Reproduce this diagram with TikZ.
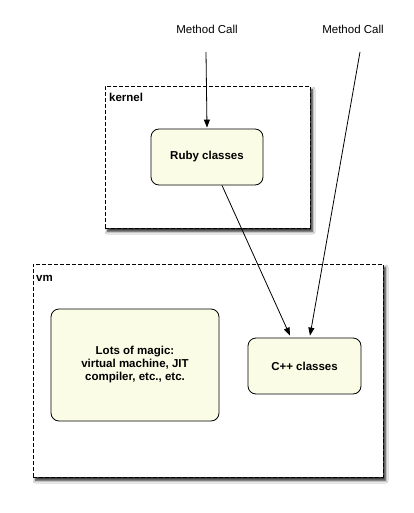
\documentclass[tikz,border=0pt]{standalone}
\usepackage{fontspec}
\setmainfont{Liberation Sans}
\usetikzlibrary{shadows.blur,arrows.meta,calc}
\definecolor{boxfill}{RGB}{250,252,230}
\begin{document}
\begin{tikzpicture}[x=1pt,y=-1pt,
  container/.style={draw=black, line width=0.8pt, dash pattern=on 4pt off 2pt, fill=white,
    blur shadow={shadow xshift=2.5pt, shadow yshift=-3.5pt, shadow blur steps=6, shadow blur radius=2.5pt, shadow opacity=85},
    inner sep=0pt},
  classbox/.style={draw=black, line width=0.8pt, fill=boxfill, rounded corners=8pt,
    inner sep=0pt, align=center, font=\fontsize{11.5}{13}\selectfont\bfseries},
  lbl/.style={font=\fontsize{11.5}{14}\selectfont\bfseries, anchor=west, inner sep=0pt},
  call/.style={font=\fontsize{11.5}{14}\selectfont, inner sep=0pt},
  arr/.style={line width=0.8pt, -{Triangle[length=8pt,width=6pt]}}]
\useasboundingbox (0,0) rectangle (414,513);
\fill[white] (0,0) rectangle (414,513);
% containers
\node[container, minimum width=205pt, minimum height=142pt] (kernel) at (207.5,157) {};
\node[lbl] (kl) at (109,97) {kernel};
\node[container, minimum width=350pt, minimum height=213pt] (vm) at (208,370.5) {};
\node[lbl] (vl) at (36,278) {vm};
% classes
\node[classbox, minimum width=112pt, minimum height=56pt] (ruby) at (207,157) {Ruby classes};
\node[classbox, minimum width=168pt, minimum height=112pt] (magic) at (135,365) {Lots of magic:\\virtual machine, JIT\\compiler, etc., etc.};
\node[classbox, minimum width=113pt, minimum height=56pt] (cpp) at (304.5,366) {C++ classes};
% method calls
\node[call] (mc1) at (207,29) {Method Call};
\node[call] (mc2) at (353,29) {Method Call};
\coordinate (s1) at (206,52);
\coordinate (s2) at (360,52);
\draw[arr] (s1) -- ($(ruby.north)+(0,-1)$);
\draw[arr] (s2) -- ($(cpp.north)+(5.5,-2)$);
\draw[arr] ($(ruby.south)+(15,0)$) -- ($(cpp.north)+(-14.5,-2)$);
\end{tikzpicture}
\end{document}
